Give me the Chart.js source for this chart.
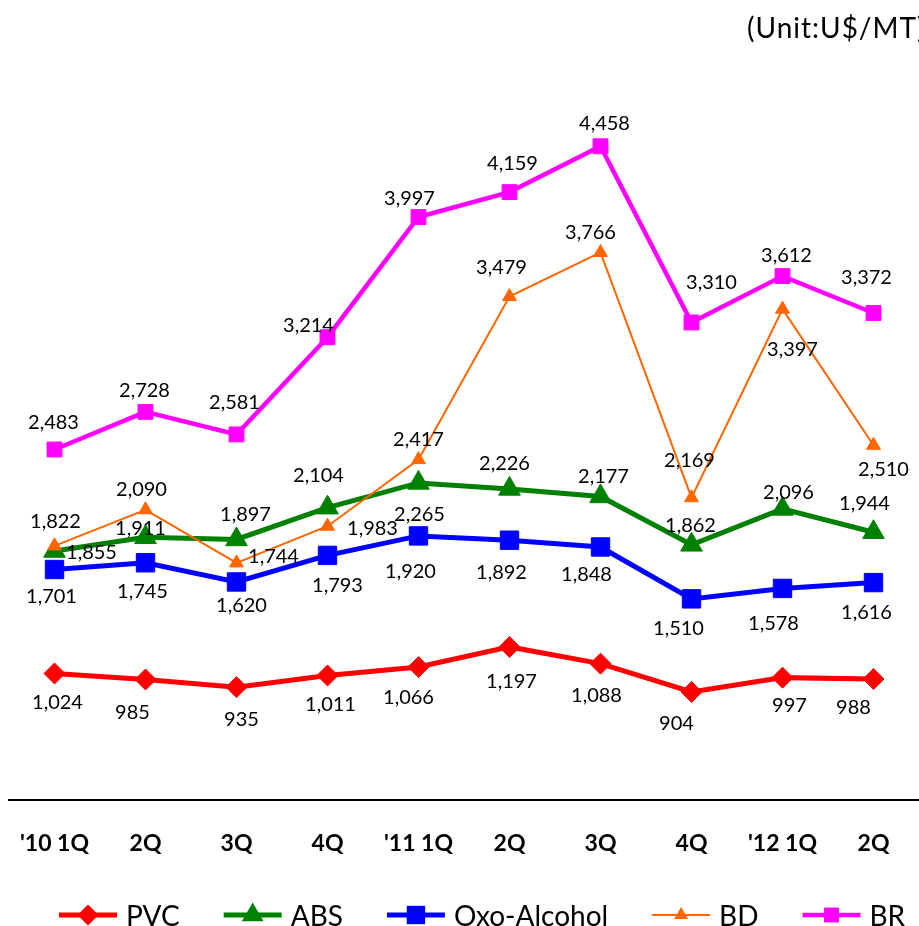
<!DOCTYPE html>
<html>
<head>
<meta charset="utf-8">
<script src="https://cdn.jsdelivr.net/npm/chart.js@4/dist/chart.umd.min.js"></script>
<style>
  body { margin: 0; background: #fff; }
  #box { width: 919px; height: 926px; position: relative; }
</style>
</head>
<body>
<div id="box"><canvas id="myChart"></canvas></div>
<script>
// quarters on the x axis
const quarters = ["'10 1Q", "2Q", "3Q", "4Q", "'11 1Q", "2Q", "3Q", "4Q", "'12 1Q", "2Q"]

// prices per quarter, U$/MT
const pvc = [1024, 985, 935, 1011, 1066, 1197, 1088, 904, 997, 988]
const abs = [1822, 1911, 1897, 2104, 2265, 2226, 2177, 1862, 2096, 1944]
const oxoAlcohol = [1701, 1745, 1620, 1793, 1920, 1892, 1848, 1510, 1578, 1616]
const bd = [1855, 2090, 1744, 1983, 2417, 3479, 3766, 2169, 3397, 2510]
const br = [2483, 2728, 2581, 3214, 3997, 4159, 4458, 3310, 3612, 3372]

const seriesNames = ["PVC", "ABS", "Oxo-Alcohol", "BD", "BR"]

// where each value label sits, relative to its point (dx, dy)
const labelShift = [
  [[3,29],[-13,33],[5,32],[3,29],[-10,31],[2,35],[-4,32],[-15,32],[7,28],[-20,29]],
  [[1,-29],[-5,-9],[9,-25],[-9,-32],[1,32],[-5,-25],[3,-20],[-1,-19],[6,-16],[-9,-29]],
  [[-3,27],[-3,29],[5,24],[10,30],[-8,36],[-8,32],[-14,28],[-13,30],[-9,35],[-7,30]],
  [[37,7],[-4,-20],[37,-6],[45,2],[0,-20],[-8,-29],[-10,-20],[-2,-37],[10,40],[10,24]],
  [[-1,-27],[-1,-21],[-2,-32],[-19,-12],[-9,-18],[3,-29],[4,-23],[20,-40],[4,-21],[-7,-35]]
]

const looks = [
  {color: '#FF0000', style: 'rectRot', radius: 10.5, width: 5},
  {color: '#008000', style: 'triangle', radius: 12.5, width: 5},
  {color: '#0000FF', style: 'rect', radius: 13, width: 5},
  {color: '#FF6600', style: 'triangle', radius: 8, width: 2},
  {color: '#FF00FF', style: 'rect', radius: 10.5, width: 4.5}
]

const values = [pvc, abs, oxoAlcohol, bd, br]

const datasets = values.map((v, i) => ({
  label: seriesNames[i],
  data: v,
  borderColor: looks[i].color,
  backgroundColor: looks[i].color,
  pointBackgroundColor: looks[i].color,
  pointBorderColor: looks[i].color,
  pointBorderWidth: 1,
  borderWidth: looks[i].width,
  pointStyle: looks[i].style,
  pointRadius: looks[i].radius,
  tension: 0,
  clip: false,
  order: 4 - i
}))

// small marker for the legend
const drawMarker = (ctx, style, r, x, y) => {
  ctx.beginPath()
  if (style === 'rectRot') {
    ctx.moveTo(x, y - r); ctx.lineTo(x + r, y); ctx.lineTo(x, y + r); ctx.lineTo(x - r, y)
  } else if (style === 'triangle') {
    const h = Math.sqrt(3) / 2 * r
    ctx.moveTo(x, y - r); ctx.lineTo(x + h, y + r / 2); ctx.lineTo(x - h, y + r / 2)
  } else {
    const s = Math.SQRT1_2 * r
    ctx.rect(x - s, y - s, 2 * s, 2 * s)
  }
  ctx.closePath()
  ctx.fill()
}

const extras = {
  id: 'extras',
  afterDatasetsDraw(chart) {
    const ctx = chart.ctx
    ctx.save()
    ctx.fillStyle = '#000'
    ctx.font = '20px Lato'
    ctx.textAlign = 'center'
    ctx.textBaseline = 'middle'
    chart.data.datasets.forEach((ds, i) => {
      chart.getDatasetMeta(i).data.forEach((pt, j) => {
        const [dx, dy] = labelShift[i][j]
        ctx.fillText(ds.data[j].toLocaleString('en-US'), pt.x + dx, pt.y + dy)
      })
    })
    ctx.restore()
  },
  afterDraw(chart) {
    const ctx = chart.ctx
    ctx.save()
    // unit note in the top right corner
    ctx.fillStyle = '#000'
    ctx.font = '28px Lato'
    ctx.letterSpacing = '1px'
    ctx.textAlign = 'left'
    ctx.textBaseline = 'middle'
    ctx.fillText('(Unit:U$/MT)', 747, 29)
    ctx.letterSpacing = '0px'

    // legend: line + marker + name
    ctx.font = '28px Lato'
    let x = 59
    const y = 915
    chart.data.datasets.forEach((ds, i) => {
      const lk = looks[i]
      ctx.strokeStyle = lk.color
      ctx.fillStyle = lk.color
      ctx.lineWidth = lk.width
      ctx.beginPath()
      ctx.moveTo(x, y)
      ctx.lineTo(x + 58, y)
      ctx.stroke()
      drawMarker(ctx, lk.style, lk.radius, x + 29, y)
      ctx.fillStyle = '#000'
      ctx.fillText(ds.label, x + 67, y + 2)
      x += 67 + ctx.measureText(ds.label).width + 44
    })
    ctx.restore()
  }
}

const ctx = document.getElementById('myChart').getContext('2d')
const myChart = new Chart(ctx, {
  type: 'line',
  data: {labels: quarters, datasets: datasets},
  options: {
    responsive: true,
    maintainAspectRatio: false,
    animation: false,
    layout: {autoPadding: false, padding: {top: 63, left: 9, right: -4, bottom: 69}},
    plugins: {legend: {display: false}, tooltip: {enabled: false}},
    scales: {
      x: {
        offset: true,
        grid: {display: false, drawTicks: false},
        border: {display: true, color: '#000', width: 2},
        ticks: {
          color: '#000',
          font: {family: 'Lato', size: 23, weight: 'bold'},
          padding: 30,
          maxRotation: 0,
          autoSkip: false
        },
        afterFit: (scale) => {
          scale.height = 57
          scale.paddingLeft = 0
          scale.paddingRight = 0
        }
      },
      y: {display: false, min: 200, max: 5000}
    }
  },
  plugins: [extras]
})
</script>
</body>
</html>
